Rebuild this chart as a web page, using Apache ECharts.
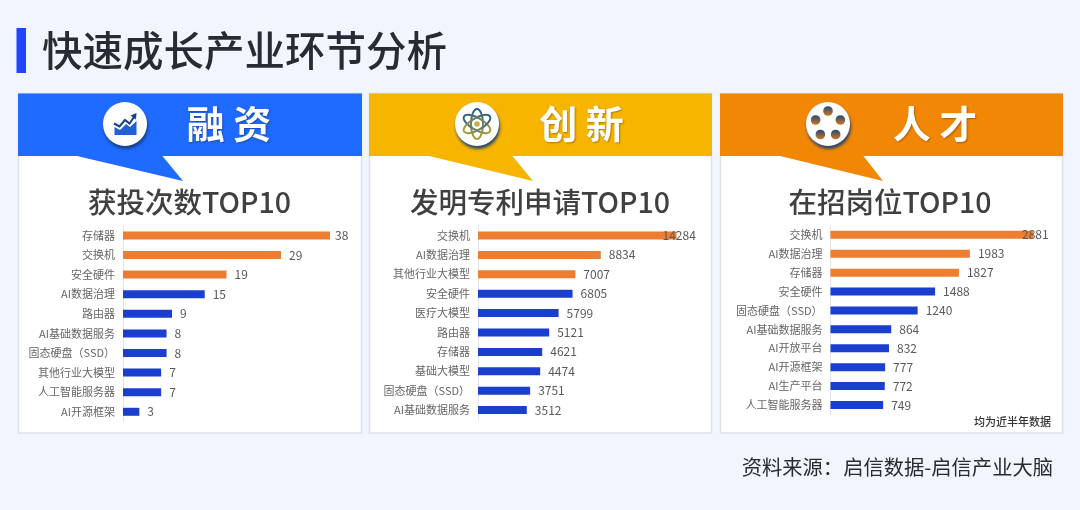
<!DOCTYPE html>
<html>
<head>
<meta charset="utf-8">
<style>html,body{margin:0;padding:0;background:#f1f5fd}#main{width:1080px;height:510px}</style>
<script src="https://cdn.jsdelivr.net/npm/echarts@6/dist/echarts.min.js"></script>
</head>
<body>
<div id="main"></div>
<script>
var fundingCats = ['存储器','交换机','安全硬件','AI数据治理','路由器','AI基础数据服务','固态硬盘（SSD）','其他行业大模型','人工智能服务器','AI开源框架'];
var fundingVals = [38,29,19,15,9,8,8,7,7,3];
var patentCats = ['交换机','AI数据治理','其他行业大模型','安全硬件','医疗大模型','路由器','存储器','基础大模型','固态硬盘（SSD）','AI基础数据服务'];
var patentVals = [14284,8834,7007,6805,5799,5121,4621,4474,3751,3512];
var talentCats = ['交换机','AI数据治理','存储器','安全硬件','固态硬盘（SSD）','AI基础数据服务','AI开放平台','AI开源框架','AI生产平台','人工智能服务器'];
var talentVals = [2881,1983,1827,1488,1240,864,832,777,772,749];

var FONT = '"Noto Sans CJK SC","Noto Sans",sans-serif';
var ORANGE = '#ED7D31', BLUE = '#1A3FCF';

// panel layout, the top bar's label sits over the bar in two of them
var panels = [
    {x:18, w:343, color:'#1F6BFF', head:'融 资', headX:229, iconX:125, tail:[75,183,162], sub:'获投次数TOP10', subX:189.5,
     cats:fundingCats, vals:fundingVals, gridLeft:123, gridW:207, gridTop:225.6, gridH:196, topGap:5},
    {x:369, w:342, color:'#F7B500', head:'创 新', headX:581.5, iconX:477, tail:[427,533,512], sub:'发明专利申请TOP10', subX:540,
     cats:patentCats, vals:patentVals, gridLeft:478, gridW:198.5, gridTop:225.8, gridH:194, topGap:-14},
    {x:720, w:342, color:'#F28705', head:'人 才', headX:935, iconX:828, tail:[778,883,863], sub:'在招岗位TOP10', subX:890,
     cats:talentCats, vals:talentVals, gridLeft:830.5, gridW:202.5, gridTop:225.4, gridH:189, topGap:-11}
];

function txt(str, x, y, size, color, align, weight, extra){
    var style = {text:str, x:x, y:y, fontSize:size, fill:color, align:align, verticalAlign:'middle',
                 fontFamily:FONT, fontWeight:weight};
    for (var k in extra) style[k] = extra[k];
    return {type:'text', z:5, style:style};
}

function circle(cx, cy, r, style){
    return {type:'circle', z:6, shape:{cx:cx, cy:cy, r:r}, style:style};
}

function vGrad(a, b){
    return new echarts.graphic.LinearGradient(0,0,0,1,[{offset:0,color:a},{offset:1,color:b}]);
}

function chartIcon(cx, cy){
    function pts(list){ return list.map(function(p){ return [cx+p[0], cy+p[1]]; }); }
    return [
        {type:'polygon', z:6, shape:{points:pts([[-10.5,11],[-10.5,3],[-5,6],[1,0],[5,3],[11.5,-3],[11.5,11]])}, style:{fill:'#1F5FD8'}},
        {type:'polyline', z:6, shape:{points:pts([[-11,-0.5],[-5.5,2.5],[0,-4],[4.5,-0.5],[9,-7]])}, style:{stroke:'#17407F', lineWidth:2, fill:null}},
        {type:'polygon', z:6, shape:{points:pts([[5.5,-8.5],[11.5,-11],[11,-4.5]])}, style:{fill:'#17407F'}}
    ];
}

function atomIcon(cx, cy){
    var out = [];
    [0, 60, -60].forEach(function(deg){
        out.push({type:'ellipse', z:6, x:cx, y:cy, rotation:deg*Math.PI/180,
            shape:{cx:0, cy:0, rx:6, ry:15},
            style:{fill:null, stroke:vGrad('#1F5A8E','#B9A235'), lineWidth:2}});
    });
    out.push(circle(cx, cy, 2.8, {fill:'#C4AE4A'}));
    return out;
}

function reelIcon(cx, cy){
    var out = [], R = 13;
    for (var i = 0; i < 5; i++){
        var a = (-90 + i*72)*Math.PI/180;
        out.push(circle(cx + R*Math.cos(a), cy + R*Math.sin(a), 4.8, {fill:vGrad('#1B4A80','#D0771A')}));
    }
    return out;
}

var icons = [chartIcon, atomIcon, reelIcon];

var graphics = [
    {type:'rect', z:1, shape:{x:16.5, y:28, width:9.5, height:45}, style:{fill:'#1F45FF'}},
    txt('快速成长产业环节分析', 42, 51, 40.5, '#262B36', 'left', 500),
    txt('资料来源：启信数据-启信产业大脑', 1053, 467, 20.3, '#262B36', 'right', 400),
    txt('均为近半年数据', 1051, 422, 11, '#333333', 'right', 500)
];

panels.forEach(function(p, idx){
    graphics.push({type:'rect', z:1, shape:{x:p.x+0.5, y:93.5, width:p.w, height:339.5},
        style:{fill:'#ffffff', stroke:'#DDE1EA', lineWidth:1.5}});
    graphics.push({type:'rect', z:2, shape:{x:p.x, y:93.5, width:p.w+1, height:62.5}, style:{fill:p.color}});
    graphics.push({type:'polygon', z:2, shape:{points:[[p.tail[0],155.5],[p.tail[1],181],[p.tail[2],155.5]]}, style:{fill:p.color}});
    graphics.push({type:'circle', z:5, shape:{cx:p.iconX, cy:124, r:22},
        style:{fill:'#ffffff', shadowColor:'rgba(20,60,120,0.9)', shadowBlur:3, shadowOffsetX:1, shadowOffsetY:3}});
    icons[idx](p.iconX, 124).forEach(function(g){ graphics.push(g); });
    graphics.push(txt(p.head, p.headX, 124, 38, '#ffffff', 'center', 700,
        {textShadowColor:'rgba(0,0,0,0.3)', textShadowBlur:2, textShadowOffsetX:1, textShadowOffsetY:1}));
    graphics.push(txt(p.sub, p.subX, 202, 28.5, '#404040', 'center', 500));
});

var grids = [], xAxes = [], yAxes = [], seriesList = [];
panels.forEach(function(p, i){
    grids.push({left:p.gridLeft, top:p.gridTop, width:p.gridW, height:p.gridH});
    xAxes.push({type:'value', gridIndex:i, min:0, max:p.vals[0], show:false, splitLine:{show:false}});
    yAxes.push({
        type:'category', gridIndex:i, inverse:true, data:p.cats, z:3,
        axisTick:{show:false},
        axisLine:{lineStyle:{color:'#E3E5EA', width:1}},
        axisLabel:{color:'#666666', fontSize:11, margin:8, fontFamily:FONT, interval:0}
    });
    seriesList.push({
        type:'bar', xAxisIndex:i, yAxisIndex:i, barWidth:8, z:4,
        label:{show:true, position:'right', distance:8, color:'#595959', fontSize:12, fontFamily:FONT},
        data:p.vals.map(function(v, j){
            var item = {value:v, itemStyle:{color: j < 3 ? ORANGE : BLUE}};
            if (j === 0) item.label = {distance:p.topGap};
            return item;
        })
    });
});

var chart = echarts.init(document.getElementById('main'));
chart.setOption({
    animation:false,
    backgroundColor:'#F1F5FD',
    graphic:{elements:graphics},
    grid:grids,
    xAxis:xAxes,
    yAxis:yAxes,
    series:seriesList
});
</script>
</body>
</html>
